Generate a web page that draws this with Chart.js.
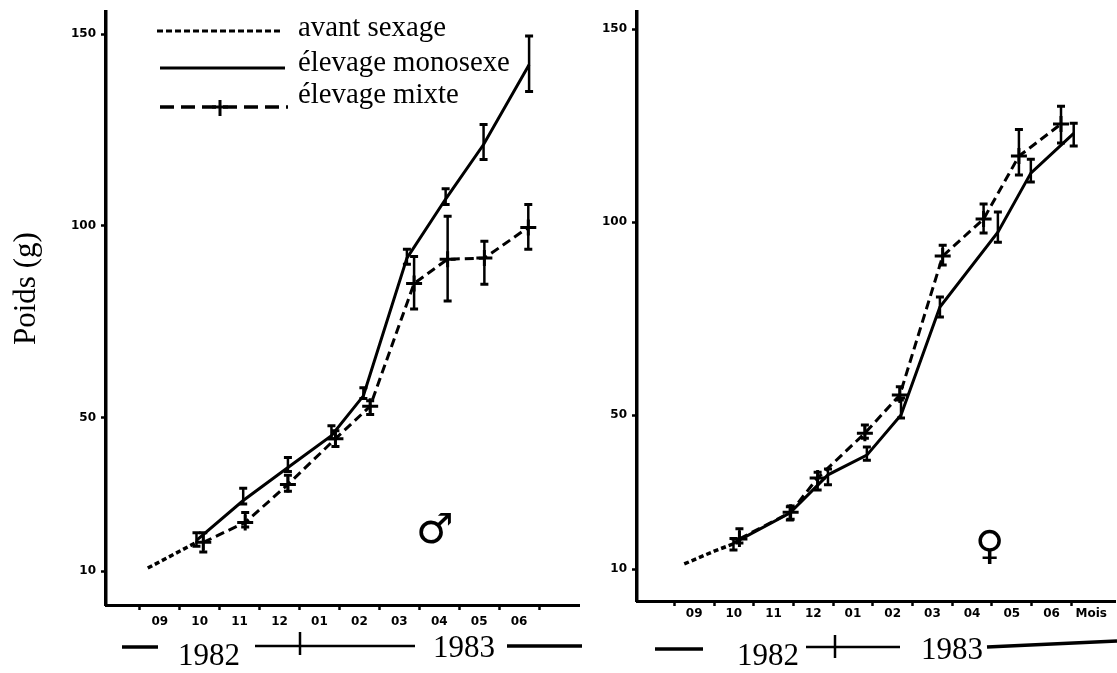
<!DOCTYPE html>
<html><head><meta charset="utf-8">
<script src="https://cdn.jsdelivr.net/npm/chart.js@4/dist/chart.umd.min.js"></script>
<style>
html,body{margin:0;padding:0;background:#fff;overflow:hidden}
canvas{position:absolute;top:0;filter:blur(0.4px)}
#c1{left:0}#c2{left:590px}
</style></head><body>
<canvas id="c1" width="590" height="673"></canvas>
<canvas id="c2" width="560" height="673"></canvas>
<script>
const yTickValues=[10,50,100,150];
const monthsLeft=['09','10','11','12','01','02','03','04','05','06'];
const monthsRight=['09','10','11','12','01','02','03','04','05','06','Mois'];
const seriesNames=['avant sexage','élevage monosexe','élevage mixte'];

// Mâles (position in months along the axis, weight in g, error bar ends)
const maleAvantX=[0.2,0.82,1.42];
const maleAvantY=[10.8,14.2,17.5];
const maleMonoX=[1.42,2.59,3.71,4.80,5.60,6.69,7.66,8.61,9.75];
const maleMonoY=[18,28.4,37,45.3,55.7,91.6,107,121.2,142];
const maleMonoHi=[20,31.6,39.6,47.9,57.8,93.9,109.7,126.4,149.5];
const maleMonoLo=[16.5,27.5,36,44.5,55,90,105.6,117.3,135];
const maleMixX=[1.59,2.64,3.71,4.90,5.77,6.87,7.71,8.63,9.73];
const maleMixY=[17.5,22.7,32.6,44.5,53,85,91.3,91.6,99.6];
const maleMixHi=[20,25.3,35,46.6,54.4,92,102.5,96,105.6];
const maleMixLo=[15,21.5,30.8,42.5,50.8,78.3,80.4,84.8,93.9];

// Femelles
const femAvantX=[0.25,1.02,1.49];
const femAvantY=[11.4,14.8,16.6];
const femMonoX=[1.49,2.91,3.87,4.85,5.71,6.69,8.15,8.98,10.06];
const femMonoY=[16.8,24.6,34.5,39.6,50,78,97.4,112.7,123];
const femMonoHi=[18,26.2,36,41.7,54.4,80.6,102.6,116.3,125.6];
const femMonoLo=[15,22.8,31.9,38.3,49.2,75.4,94.8,110.4,119.7];
const femMixX=[1.64,2.93,3.61,4.80,5.68,6.76,7.79,8.68,9.74];
const femMixY=[17.9,24.8,33.7,45.3,55.2,91.2,100.8,117.1,125.4];
const femMixHi=[20.5,26.4,35.2,47.4,57.3,94,104.7,124,130];
const femMixLo=[16.8,23,30.6,44,53.9,88.9,97.2,112.2,120.5];

const pts=(xs,ys)=>xs.map((x,i)=>({x,y:ys[i]}));
const INK='#000';
const SERIF='"Liberation Serif",serif';

const errorBars={id:'errorBars',afterDatasetsDraw(chart){
  const c=chart.ctx,xs=chart.scales.x,ys=chart.scales.y;
  c.save();c.strokeStyle=INK;
  chart.data.datasets.forEach(d=>{
    if(!d.hi)return;
    d.data.forEach((p,i)=>{
      const x=xs.getPixelForValue(p.x),t=ys.getPixelForValue(d.hi[i]),b=ys.getPixelForValue(d.lo[i]);
      c.lineWidth=2.5;c.beginPath();c.moveTo(x,t);c.lineTo(x,b);c.stroke();
      c.lineWidth=3;c.beginPath();c.moveTo(x-4,t);c.lineTo(x+4,t);c.moveTo(x-4,b);c.lineTo(x+4,b);c.stroke();
    });
  });
  c.restore();
}};

function text(c,s,x,y,size,font){c.font=size+'px '+(font||SERIF);c.fillStyle=INK;c.textBaseline='alphabetic';c.textAlign='left';c.fillText(s,x,y);}
function seg(c,x0,y0,x1,y1,w,dash){c.save();c.strokeStyle=INK;c.lineWidth=w;c.setLineDash(dash||[]);c.beginPath();c.moveTo(x0,y0);c.lineTo(x1,y1);c.stroke();c.restore();}

const decorLeft={id:'decorLeft',afterDraw(chart){
  const c=chart.ctx;
  // legend
  seg(c,157,31,282,31,3,[6,3]);
  seg(c,160,68,285,68,3);
  seg(c,160,107,288,107,3.5,[14,7]);
  seg(c,220,100,220,116,3);seg(c,212,107,228,107,3);
  text(c,seriesNames[0],298,36,28.8);
  text(c,seriesNames[1],298,71,28.8);
  text(c,seriesNames[2],298,103,28.8);
  // axis title
  c.save();c.translate(35,345);c.rotate(-Math.PI/2);text(c,'Poids (g)',0,0,31);c.restore();
  // years
  seg(c,122,647,158,647,3.5);
  text(c,'1982',178,665,31);
  seg(c,255,646,415,646,2.5);
  seg(c,300,632,300,655,2.5);
  text(c,'1983',433,657,31);
  seg(c,507,646,582,646,3.5);
  // sex symbol
  text(c,'♂',416,543,42,'"DejaVu Sans"');
}};
const decorRight={id:'decorRight',afterDraw(chart){
  const c=chart.ctx,o=590;
  seg(c,655-o,649,703-o,649,3.5);
  text(c,'1982',737-o,665,31);
  seg(c,806-o,647,900-o,647,2.5);
  seg(c,835-o,635,835-o,658,2.5);
  text(c,'1983',921-o,659,31);
  seg(c,987-o,647,1117-o,641,3.5);
  text(c,'♀',975-o,559,40,'"DejaVu Sans"');
}};

function makeChart(id,cfg){
  return new Chart(document.getElementById(id),{
    type:'line',
    data:{datasets:[
      {label:seriesNames[0],data:pts(cfg.ax,cfg.ay),borderColor:INK,borderWidth:3.5,borderDash:[5,3],pointRadius:0,tension:0},
      {label:seriesNames[1],data:pts(cfg.mx,cfg.my),hi:cfg.mh,lo:cfg.ml,borderColor:INK,borderWidth:3,pointRadius:0,tension:0},
      {label:seriesNames[2],data:pts(cfg.xx,cfg.xy),hi:cfg.xh,lo:cfg.xl,borderColor:INK,borderWidth:3,borderDash:[9,5],pointStyle:'cross',pointRadius:8,pointBorderWidth:3,pointBorderColor:INK,tension:0}
    ]},
    plugins:[errorBars,cfg.decor],
    options:{
      responsive:false,animation:false,devicePixelRatio:1,
      layout:{padding:{top:cfg.top,right:cfg.right,left:0,bottom:0}},
      plugins:{legend:{display:false},tooltip:{enabled:false}},
      scales:{
        x:{type:'linear',min:cfg.xmin,max:cfg.xmax,
          afterFit:s=>{s.height=cfg.xh_px;s.paddingLeft=0;s.paddingRight=0;},
          afterBuildTicks:s=>{const t=[];for(let i=0;i<cfg.labels.length;i++){t.push({value:i});t.push({value:i+0.5});}t.push({value:cfg.labels.length});s.ticks=t.filter(k=>k.value<=cfg.lastTick);},
          border:{color:INK,width:3},
          grid:{drawOnChartArea:false,tickLength:5,tickWidth:2.5,tickColor:k=>Number.isInteger(k.tick.value)?INK:'rgba(0,0,0,0)'},
          ticks:{autoSkip:false,maxRotation:0,minRotation:0,padding:cfg.xpad,color:INK,font:{family:'"DejaVu Sans"',weight:'bold',size:12},
            callback:v=>Number.isInteger(v)?'':cfg.labels[Math.floor(v)]}
        },
        y:{type:'linear',min:cfg.ymin,max:cfg.ymax,
          afterFit:s=>{s.width=cfg.yw;},
          afterBuildTicks:s=>{s.ticks=yTickValues.map(value=>({value}));},
          border:{color:INK,width:3.5},
          grid:{drawOnChartArea:false,tickLength:5,tickWidth:2.5,tickColor:INK},
          ticks:{padding:5,color:INK,font:{family:'"DejaVu Sans"',weight:'bold',size:12},callback:v=>String(v)}
        }
      }
    }
  });
}

makeChart('c1',{ax:maleAvantX,ay:maleAvantY,mx:maleMonoX,my:maleMonoY,mh:maleMonoHi,ml:maleMonoLo,
  xx:maleMixX,xy:maleMixY,xh:maleMixHi,xl:maleMixLo,labels:monthsLeft,lastTick:10,decor:decorLeft,
  top:10,right:8,xh_px:68,yw:106,xmin:-0.846,xmax:11,ymin:1.17,ymax:155.7,xpad:5});
makeChart('c2',{ax:femAvantX,ay:femAvantY,mx:femMonoX,my:femMonoY,mh:femMonoHi,ml:femMonoLo,
  xx:femMixX,xy:femMixY,xh:femMixHi,xl:femMixLo,labels:monthsRight,lastTick:10.5,decor:decorRight,
  top:12,right:35,xh_px:72,yw:47,xmin:-0.94,xmax:11.1,ymin:1.8,ymax:154.4,xpad:1});
</script>
</body></html>
